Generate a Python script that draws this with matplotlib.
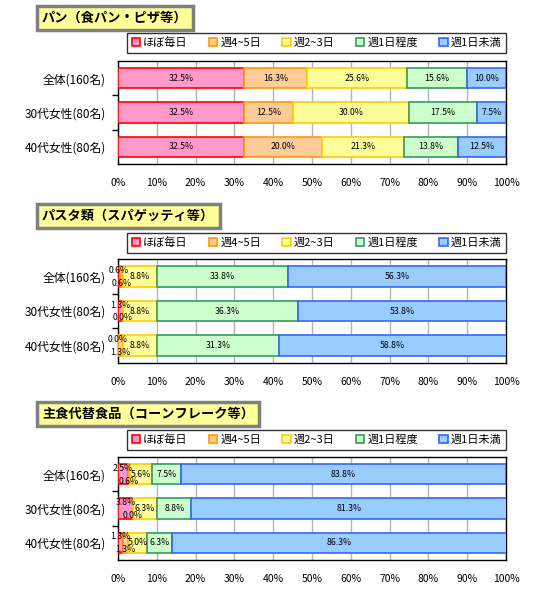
import matplotlib
matplotlib.use("Agg")
import matplotlib.pyplot as plt
from matplotlib.patches import Patch
import numpy as np

plt.rcParams['font.family'] = ['Noto Sans CJK JP', 'DejaVu Sans']

categories = ['全体(160名)', '30代女性(80名)', '40代女性(80名)']
series_names = ['ほぼ毎日', '週4~5日', '週2~3日', '週1日程度', '週1日未満']
titles = ['パン（食パン・ピザ等）', 'パスタ類（スパゲッティ等）', '主食代替食品（コーンフレーク等）']

bread = [[32.5, 16.3, 25.6, 15.6, 10.0],
         [32.5, 12.5, 30.0, 17.5, 7.5],
         [32.5, 20.0, 21.3, 13.8, 12.5]]
pasta = [[0.6, 0.6, 8.8, 33.8, 56.3],
         [1.3, 0.0, 8.8, 36.3, 53.8],
         [0.0, 1.3, 8.8, 31.3, 58.8]]
cereal = [[2.5, 0.6, 5.6, 7.5, 83.8],
          [3.8, 0.0, 6.3, 8.8, 81.3],
          [1.3, 1.3, 5.0, 6.3, 86.3]]
xticks = [0, 10, 20, 30, 40, 50, 60, 70, 80, 90, 100]
xticklabels = [f'{t}%' for t in xticks]

face_colors = ['#FF99CC', '#FFCC99', '#FFFF99', '#CCFFCC', '#99CCFF']
edge_colors = ['#FF0000', '#FF9900', '#FFCC00', '#339966', '#3366FF']

W, H = 539, 592
fig = plt.figure(figsize=(W / 100, H / 100), dpi=100)

panels = [
    dict(data=bread, title=titles[0], title_y=18, legend_top=33, ax_top=61, ax_bot=164),
    dict(data=pasta, title=titles[1], title_y=216, legend_top=233, ax_top=259, ax_bot=363),
    dict(data=cereal, title=titles[2], title_y=414, legend_top=430, ax_top=457, ax_bot=560),
]

ax_left, ax_right = 118, 506

for p in panels:
    data = np.array(p['data'])
    ax = fig.add_axes([ax_left / W, 1 - p['ax_bot'] / H,
                       (ax_right - ax_left) / W, (p['ax_bot'] - p['ax_top']) / H])
    ypos = np.arange(len(categories))
    left = np.zeros(len(categories))
    for i in range(len(series_names)):
        vals = data[:, i]
        ax.barh(ypos, vals, left=left, height=0.6, color=face_colors[i],
                edgecolor=edge_colors[i], linewidth=1.2, zorder=3)
        for j, v in enumerate(vals):
            cx = left[j] + v / 2
            cy = ypos[j]
            if i == 0 and v < 5:
                cy -= 0.17
            elif i == 1 and v < 5:
                cy += 0.2
            ax.text(cx, cy, f'{v:.1f}%', ha='center', va='center', fontsize=6.3,
                    color='black', zorder=5, clip_on=False)
        left = left + vals
    ax.set_xlim(0, 100)
    ax.set_ylim(2.5, -0.5)
    ax.set_xticks(xticks)
    ax.set_xticklabels(xticklabels, fontsize=7.5)
    ax.tick_params(axis='x', length=0, pad=10)
    ax.set_yticks(ypos)
    ax.set_yticklabels(categories, fontsize=8.5)
    ax.tick_params(axis='y', which='major', length=0, pad=9)
    ax.set_yticks([0.5, 1.5], minor=True)
    ax.tick_params(axis='y', which='minor', length=4, width=1, direction='out')
    ax.grid(axis='x', color='#B4B4B4', linewidth=1, zorder=0)
    for s in ax.spines.values():
        s.set_color('black')
        s.set_linewidth(1)

    fig.text(42 / W, 1 - p['title_y'] / H, p['title'], fontsize=9.5, fontweight='bold',
             ha='left', va='center',
             bbox=dict(boxstyle='square,pad=0.4', fc='#FFFF99', ec='#808080', lw=2.5))

    handles = [Patch(facecolor=face_colors[i], edgecolor=edge_colors[i], linewidth=1.2,
                     label=series_names[i]) for i in range(len(series_names))]
    leg = fig.legend(handles=handles, loc='upper right', ncol=5,
                     bbox_to_anchor=(ax_right / W, 1 - p['legend_top'] / H),
                     fontsize=8, frameon=True, fancybox=False, edgecolor='black',
                     handlelength=0.75, handleheight=0.75, handletextpad=0.3,
                     columnspacing=1.9, borderpad=0.4, borderaxespad=0)
    leg.get_frame().set_linewidth(1)

fig.savefig('out.png', dpi=100, facecolor='white')
